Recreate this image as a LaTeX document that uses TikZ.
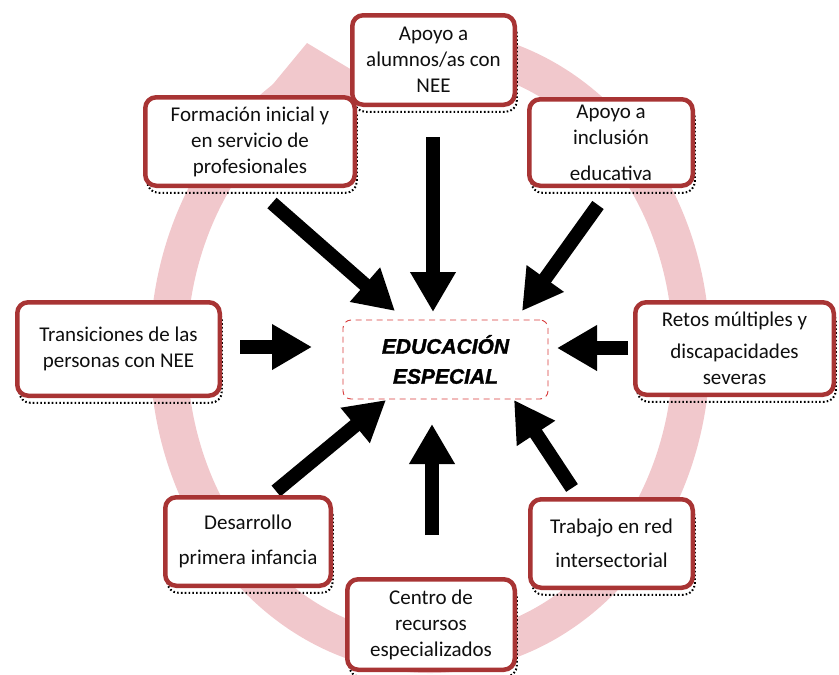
\documentclass[tikz,border=0pt]{standalone}
\usepackage{fontspec}
\setmainfont{Carlito}
\newfontfamily\edfont{Liberation Sans}[BoldItalicFeatures={FakeBold=1.6}]
\usetikzlibrary{arrows.meta}
\definecolor{ringpink}{RGB}{241,200,204}
\definecolor{boxred}{RGB}{168,52,52}
\definecolor{dashred}{RGB}{215,60,60}
\definecolor{txt}{RGB}{15,15,15}
\begin{document}
\begin{tikzpicture}[x=1pt,y=-1pt,
  box/.style={draw=boxred, line width=4.5pt, rounded corners=11pt, fill=white,
    align=center, text=txt, font=\fontsize{21}{26}\selectfont, inner sep=0pt,
    preaction={draw=black, line width=2pt, dash pattern=on 1.6pt off 2.2pt,
      transform canvas={xshift=2pt,yshift=-7pt}}},
  centerbox/.style={draw=dashred, line width=0.9pt, rounded corners=8pt,
    dash pattern=on 6pt off 4.5pt, align=center, inner sep=0pt,
    font=\edfont\bfseries\itshape\fontsize{21}{30}\selectfont},
  bigarrow/.style={line width=14pt, black, -{Triangle[length=40pt, width=43pt]}},
  ring/.style={draw=ringpink, line width=37pt},
]
\useasboundingbox (0,0) rectangle (839,675);

% background circular arrow
\coordinate (rc) at (430,351);
\draw[ring] (rc) ++(-95:261.5 and 303.5)
  arc[start angle=-95, end angle=242, x radius=261.5, y radius=303.5];
\fill[ringpink] (245,118) -- (307,43) -- (372,82) -- (330,150) -- cycle;

% arrows
\coordinate (aT1) at (433,137);  \coordinate (aT2) at (433,312);
\coordinate (aF1) at (272,203);  \coordinate (aF2) at (395,311);
\coordinate (aI1) at (598,205);  \coordinate (aI2) at (522,311);
\coordinate (aL1) at (240,347);  \coordinate (aL2) at (312,347);
\coordinate (aR1) at (628,348);  \coordinate (aR2) at (557,348);
\coordinate (aD1) at (276,491);  \coordinate (aD2) at (386,400);
\coordinate (aC1) at (432,535);  \coordinate (aC2) at (432,424);
\coordinate (aW1) at (572,488);  \coordinate (aW2) at (514,400);
\foreach \n in {T,F,I,L,R,D,C,W}
  \draw[bigarrow] (a\n1) -- (a\n2);

% boxes
\node[box, minimum width=162.5pt, minimum height=89.5pt] (top) at (433.5,60)
  {Apoyo a\\alumnos/as con\\NEE};
\node[box, minimum width=209.5pt, minimum height=88.5pt] (form) at (250,141.5)
  {Formación inicial y\\en servicio de\\profesionales};
\node[box, minimum width=163.5pt, minimum height=86.5pt] (incl) at (611,142.5)
  {Apoyo a\\inclusión\\[10pt]educativa};
\node[box, minimum width=202.5pt, minimum height=93.5pt] (trans) at (118.5,349)
  {Transiciones de las\\personas con NEE};
\node[box, minimum width=198.5pt, minimum height=92.5pt] (retos) at (734.5,348.5)
  {Retos múltiples y\\[6pt]discapacidades\\severas};
\node[box, minimum width=165.5pt, minimum height=88.5pt] (desa) at (248,541.5)
  {Desarrollo\\[9pt]primera infancia};
\node[box, minimum width=162.5pt, minimum height=88.5pt] (trab) at (611.5,543.5)
  {Trabajo en red\\[8pt]intersectorial};
\node[box, minimum width=167.5pt, minimum height=90.5pt] (centro) at (431,624.5)
  {Centro de\\recursos\\especializados};

% centre
\node[centerbox, minimum width=205pt, minimum height=79pt] (ee) at (445.5,359.5)
  {EDUCACIÓN\\ESPECIAL};
\end{tikzpicture}
\end{document}
